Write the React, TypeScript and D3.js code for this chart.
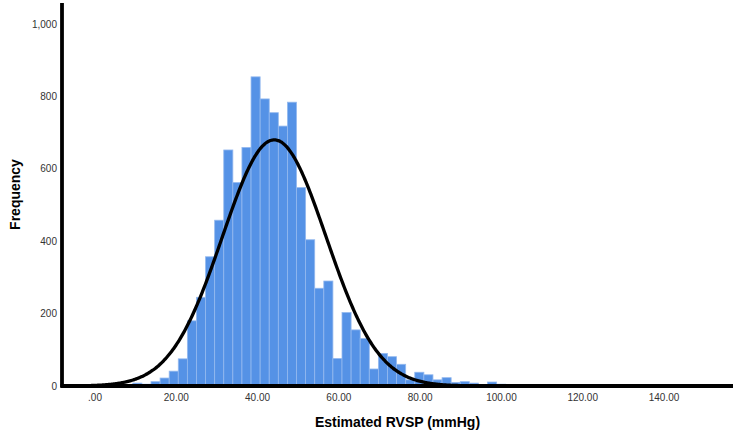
import React from "react";
import * as d3 from "d3";

// Histogram bins (Estimated RVSP, mmHg)
const binStart = 9.3;
const binWidth = 2.238;
const counts = [
  8, 5, 12, 22, 41, 75, 180, 245, 357, 458, 652, 562, 659, 854, 793, 755, 718,
  784, 548, 404, 270, 290, 76, 203, 155, 131, 47, 90, 81, 60, 17, 38, 31, 17,
  23, 10, 12, 8, 4, 11, 5,
];
// Normal fit
const fitMean = 44.1;
const fitSd = 12.75;

const xTicks = [0, 20, 40, 60, 80, 100, 120, 140];
const yTicks = [0, 200, 400, 600, 800, 1000];

const W = 735;
const H = 432;

export default function App() {
  const x = d3.scaleLinear().domain([0, 140]).range([95, 664]);
  const y = d3.scaleLinear().domain([0, 1000]).range([386, 24]);
  const xMin = x.invert(62);
  const xMax = x.invert(733);
  const yTop = y.invert(3);

  const total = d3.sum(counts);
  const density = (v: number) =>
    (total * binWidth) / (fitSd * Math.sqrt(2 * Math.PI)) *
    Math.exp(-0.5 * ((v - fitMean) / fitSd) ** 2);
  const curvePts = d3.range(xMin, xMax, 0.25).map((v) => [v, density(v)] as [number, number]);
  const line = d3
    .line<[number, number]>()
    .x((d) => x(d[0]))
    .y((d) => y(d[1]))
    .curve(d3.curveBasis);

  const fmtY = d3.format(",");
  const fmtX = (v: number) => (v === 0 ? ".00" : v.toFixed(2));

  return (
    <svg
      width={W}
      height={H}
      style={{ position: "absolute", left: 0, top: 0, background: "#fff" }}
      fontFamily="'Liberation Sans', Arial, sans-serif"
    >
      <g>
        {counts.map((c, i) => {
          const x0 = binStart + i * binWidth;
          const x1 = x0 + binWidth;
          return (
            <rect
              key={i}
              x={x(x0)}
              y={y(c)}
              width={x(x1) - x(x0)}
              height={y(0) - y(c)}
              fill="#5592e6"
              stroke="#94b9ef"
              strokeWidth={0.8}
            />
          );
        })}
      </g>
      <path d={line(curvePts) || ""} fill="none" stroke="#000" strokeWidth={3.3} />
      {/* axes */}
      <line x1={x(xMin)} x2={x(xMin)} y1={y(yTop)} y2={y(0) + 1.5} stroke="#000" strokeWidth={3.8} />
      <line x1={x(xMin) - 1.5} x2={x(xMax)} y1={y(0)} y2={y(0)} stroke="#000" strokeWidth={3.8} />
      {yTicks.map((t) => (
        <text key={t} x={57} y={y(t)} dy="0.35em" textAnchor="end" fontSize={10} fill="#333">
          {fmtY(t)}
        </text>
      ))}
      {xTicks.map((t) => (
        <text key={t} x={x(t)} y={397} dy="0.35em" textAnchor="middle" fontSize={10} fill="#333">
          {fmtX(t)}
        </text>
      ))}
      <text x={397.5} y={422} dy="0.35em" textAnchor="middle" fontSize={14} fontWeight="bold" fill="#000">
        Estimated RVSP (mmHg)
      </text>
      <text
        transform={`translate(15,${(y(yTop) + y(0)) / 2}) rotate(-90)`}
        dy="0.35em"
        textAnchor="middle"
        fontSize={14}
        fontWeight="bold"
        fill="#000"
      >
        Frequency
      </text>
    </svg>
  );
}
